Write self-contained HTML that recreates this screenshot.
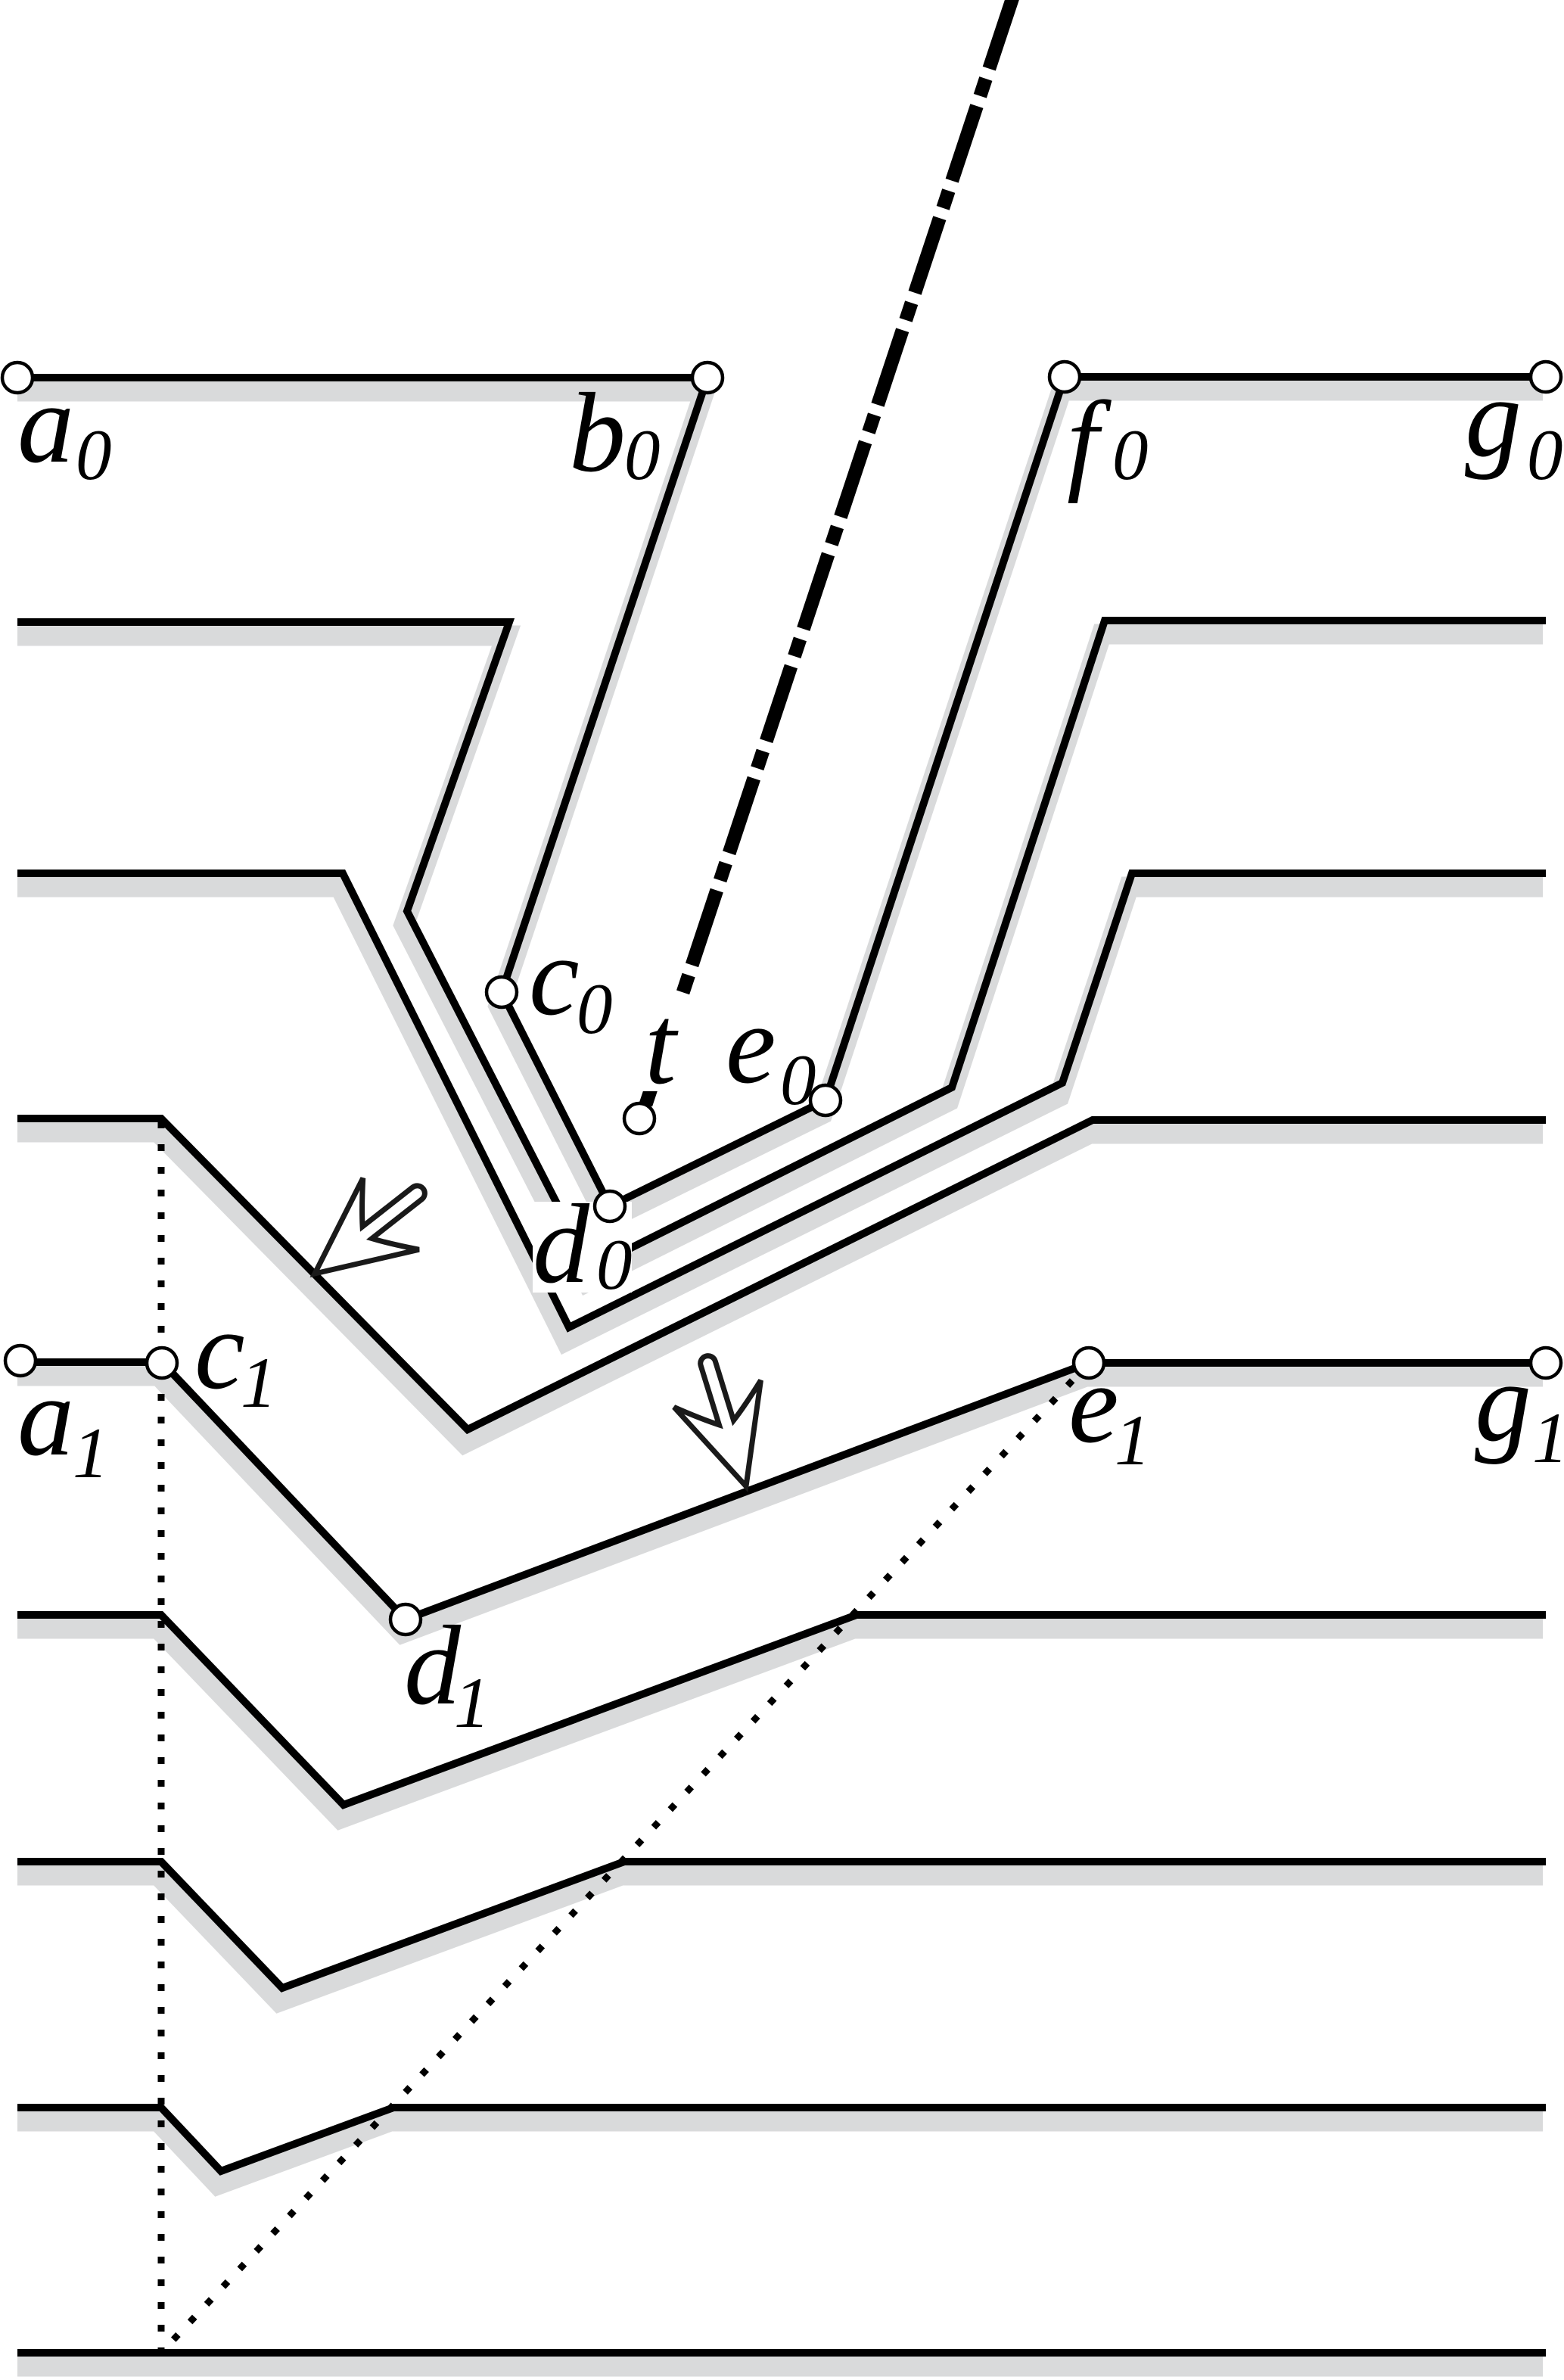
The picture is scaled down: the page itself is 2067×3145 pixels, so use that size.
<!DOCTYPE html>
<html><head><meta charset="utf-8"><style>html,body{margin:0;padding:0;background:#fff}svg{display:block}</style></head>
<body>
<svg width="2067" height="3145" viewBox="0 0 2067 3145" xmlns="http://www.w3.org/2000/svg">
<defs>
<clipPath id="cl"><rect x="23" y="0" width="2020" height="3145"/></clipPath>
<g id="lines">
<polyline points="23,499 935,499 663,1311 806,1594 1091,1454 1407,498 2043,498"/>
<polyline points="23,822 673,822 538,1204 780,1676 1258,1437 1460,820 2043,820"/>
<polyline points="23,1154 453,1154 752,1754 1404,1431 1496,1154 2043,1154"/>
<polyline points="23,1478 213,1478 618,1889 1444,1480 2043,1480"/>
<polyline points="23,1800 214,1800 536,2140 1439,1801 2043,1801"/>
<polyline points="23,2134 213,2134 454,2385 1132,2134 2043,2134"/>
<polyline points="23,2460 213,2460 373,2627 825,2460 2043,2460"/>
<polyline points="23,2785 213,2785 292,2869 520,2785 2043,2785"/>
<polyline points="23,3109 2043,3109"/>
</g>
</defs>
<rect width="2067" height="3145" fill="#fff"/>
<g clip-path="url(#cl)">
<use href="#lines" transform="translate(-4,18)" fill="none" stroke="#d9dadb" stroke-width="27" stroke-linejoin="miter" stroke-miterlimit="10"/>
</g>
<use href="#lines" fill="none" stroke="#000" stroke-width="10" stroke-linejoin="miter" stroke-miterlimit="10"/>
<line x1="213" y1="1482" x2="213" y2="3109" stroke="#000" stroke-width="9" stroke-dasharray="9 21"/>
<line x1="1439" y1="1801" x2="213" y2="3109" stroke="#000" stroke-width="9" stroke-dasharray="9 23"/>
<line x1="1340" y1="-8" x2="850" y2="1470" stroke="#000" stroke-width="18" stroke-dasharray="104 14 24 14"/>
<rect x="704" y="1588" width="131" height="120" fill="#fff"/>
<rect x="842" y="1320" width="75" height="122" fill="#fff"/>
<g fill="#fff" stroke="#000" stroke-width="4.5">
<circle cx="23" cy="499" r="20"/><circle cx="935" cy="499" r="20"/>
<circle cx="1407" cy="498" r="20"/><circle cx="2043" cy="498" r="20"/>
<circle cx="663" cy="1311" r="20"/><circle cx="806" cy="1594" r="20"/>
<circle cx="1091" cy="1454" r="20"/><circle cx="845" cy="1478" r="20"/>
<circle cx="27" cy="1798" r="20"/><circle cx="214" cy="1801" r="20"/>
<circle cx="536" cy="2140" r="20"/><circle cx="1439" cy="1801" r="20"/>
<circle cx="2043" cy="1801" r="20"/>
</g>
<g fill="#fff" stroke="#1a1a1a" stroke-width="7" stroke-linejoin="miter">
<path transform="translate(416,1683) rotate(141.9)" d="M0,0 L-128,-60 Q-102,-30 -88,-10 L-172,-10 A10,10 0 0 0 -172,10 L-88,10 Q-102,30 -128,60 Z"/>
<path transform="translate(986,1964) rotate(72.8)" d="M0,0 L-128,-60 Q-102,-30 -88,-10 L-170,-10 A10,10 0 0 0 -170,10 L-88,10 Q-102,30 -128,60 Z"/>
</g>
<g font-family="'Liberation Serif', serif" font-style="italic" fill="#000">
<text x="23" y="610" font-size="150">a</text><text x="100" y="633" font-size="95">0</text>
<text x="752" y="622" font-size="150">b</text><text x="825" y="633" font-size="95">0</text>
<text x="1410" y="633" font-size="150">f</text><text x="1470" y="633" font-size="95">0</text>
<text x="1936" y="602" font-size="150">g</text><text x="2018" y="633" font-size="95">0</text>
<text x="699" y="1340" font-size="150">c</text><text x="762" y="1365" font-size="95">0</text>
<text x="852" y="1431" font-size="150">t</text>
<text x="959" y="1430" font-size="150">e</text><text x="1031" y="1459" font-size="95">0</text>
<text x="704" y="1694" font-size="150">d</text><text x="788" y="1703" font-size="95">0</text>
<text x="257" y="1834" font-size="150">c</text><text x="318" y="1859" font-size="95">1</text>
<text x="23" y="1922" font-size="150">a</text><text x="96" y="1952" font-size="95">1</text>
<text x="534" y="2251" font-size="150">d</text><text x="600" y="2282" font-size="95">1</text>
<text x="1412" y="1905" font-size="150">e</text><text x="1473" y="1935" font-size="95">1</text>
<text x="1949" y="1903" font-size="150">g</text><text x="2025" y="1932" font-size="95">1</text>
</g>
</svg>
</body></html>
